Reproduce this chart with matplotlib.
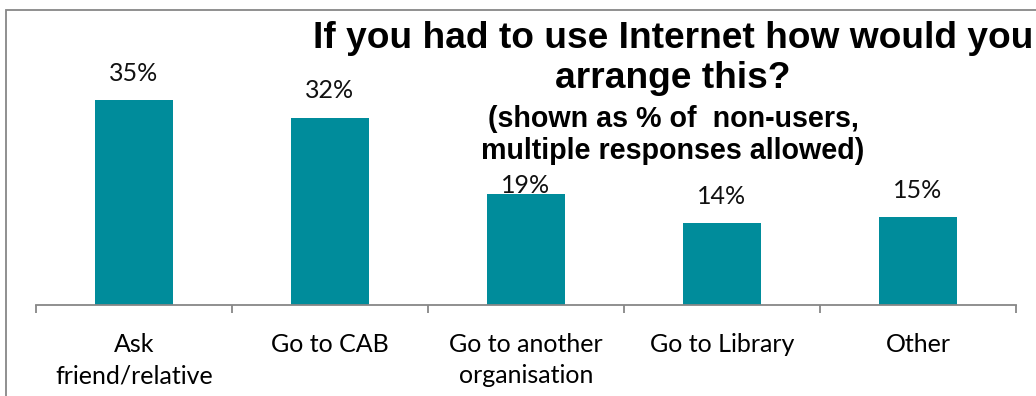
import matplotlib
matplotlib.use("Agg")
import matplotlib.pyplot as plt
from matplotlib.patches import Rectangle

# survey answers, % of non-users (multiple responses allowed)
categories = ["Ask\nfriend/relative", "Go to CAB", "Go to another\norganisation",
              "Go to Library", "Other"]
values = [35, 32, 19, 14, 15]
value_labels = ["35%", "32%", "19%", "14%", "15%"]

title_lines = ["If you had to use Internet how would you", "arrange this?"]
subtitle_lines = ["(shown as % of  non-users,", "multiple responses allowed)"]

BAR = "#008C9B"
GREY = "#878787"
W, H = 1036, 396

fig = plt.figure(figsize=(W / 100, H / 100), dpi=100)

# chart frame (left/top edges visible, rest runs off the canvas)
fig.patches.append(Rectangle((6 / W, -0.1), 1.2, (H - 10) / H + 0.1,
                             transform=fig.transFigure, fill=False,
                             edgecolor=GREY, linewidth=1.3))

ax = fig.add_axes([36 / W, (H - 305) / H, 980 / W, 234 / H])
x = list(range(len(categories)))
ax.bar(x, values, width=0.4, color=BAR, zorder=2)
ax.set_xlim(-0.5, len(categories) - 0.5)
ax.set_ylim(0, 40)

for s in ("left", "right", "top"):
    ax.spines[s].set_visible(False)
ax.spines["bottom"].set_color(GREY)
ax.spines["bottom"].set_linewidth(1.3)
ax.set_yticks([])

ax.set_xticks(x, categories, fontfamily="Lato", fontsize=18, linespacing=1.45)
ax.tick_params(axis="x", which="major", length=0, pad=20)
ax.set_xticks([i - 0.5 for i in range(len(categories) + 1)], minor=True)
ax.tick_params(axis="x", which="minor", length=6, width=1.3, color=GREY,
               direction="out")

# label offsets above bar tops (points)
offsets = [19.5, 19.5, 6, 19, 19]
for xi, v, lab, off in zip(x, values, value_labels, offsets):
    ax.annotate(lab, (xi, v), xytext=(0, off), textcoords="offset points",
                ha="center", va="center", fontfamily="Lato", fontsize=18,
                color="#111111", zorder=3)

cx = 673 / W
for line, base in zip(title_lines, [48, 88]):
    fig.text(cx, (H - base) / H, line, ha="center", va="baseline",
             fontfamily="Liberation Sans", fontweight="bold", fontsize=26.7)
for line, base in zip(subtitle_lines, [127, 159]):
    fig.text(cx, (H - base) / H, line, ha="center", va="baseline",
             fontfamily="Liberation Sans", fontweight="bold", fontsize=20.6)

fig.savefig("out.png", dpi=100)
